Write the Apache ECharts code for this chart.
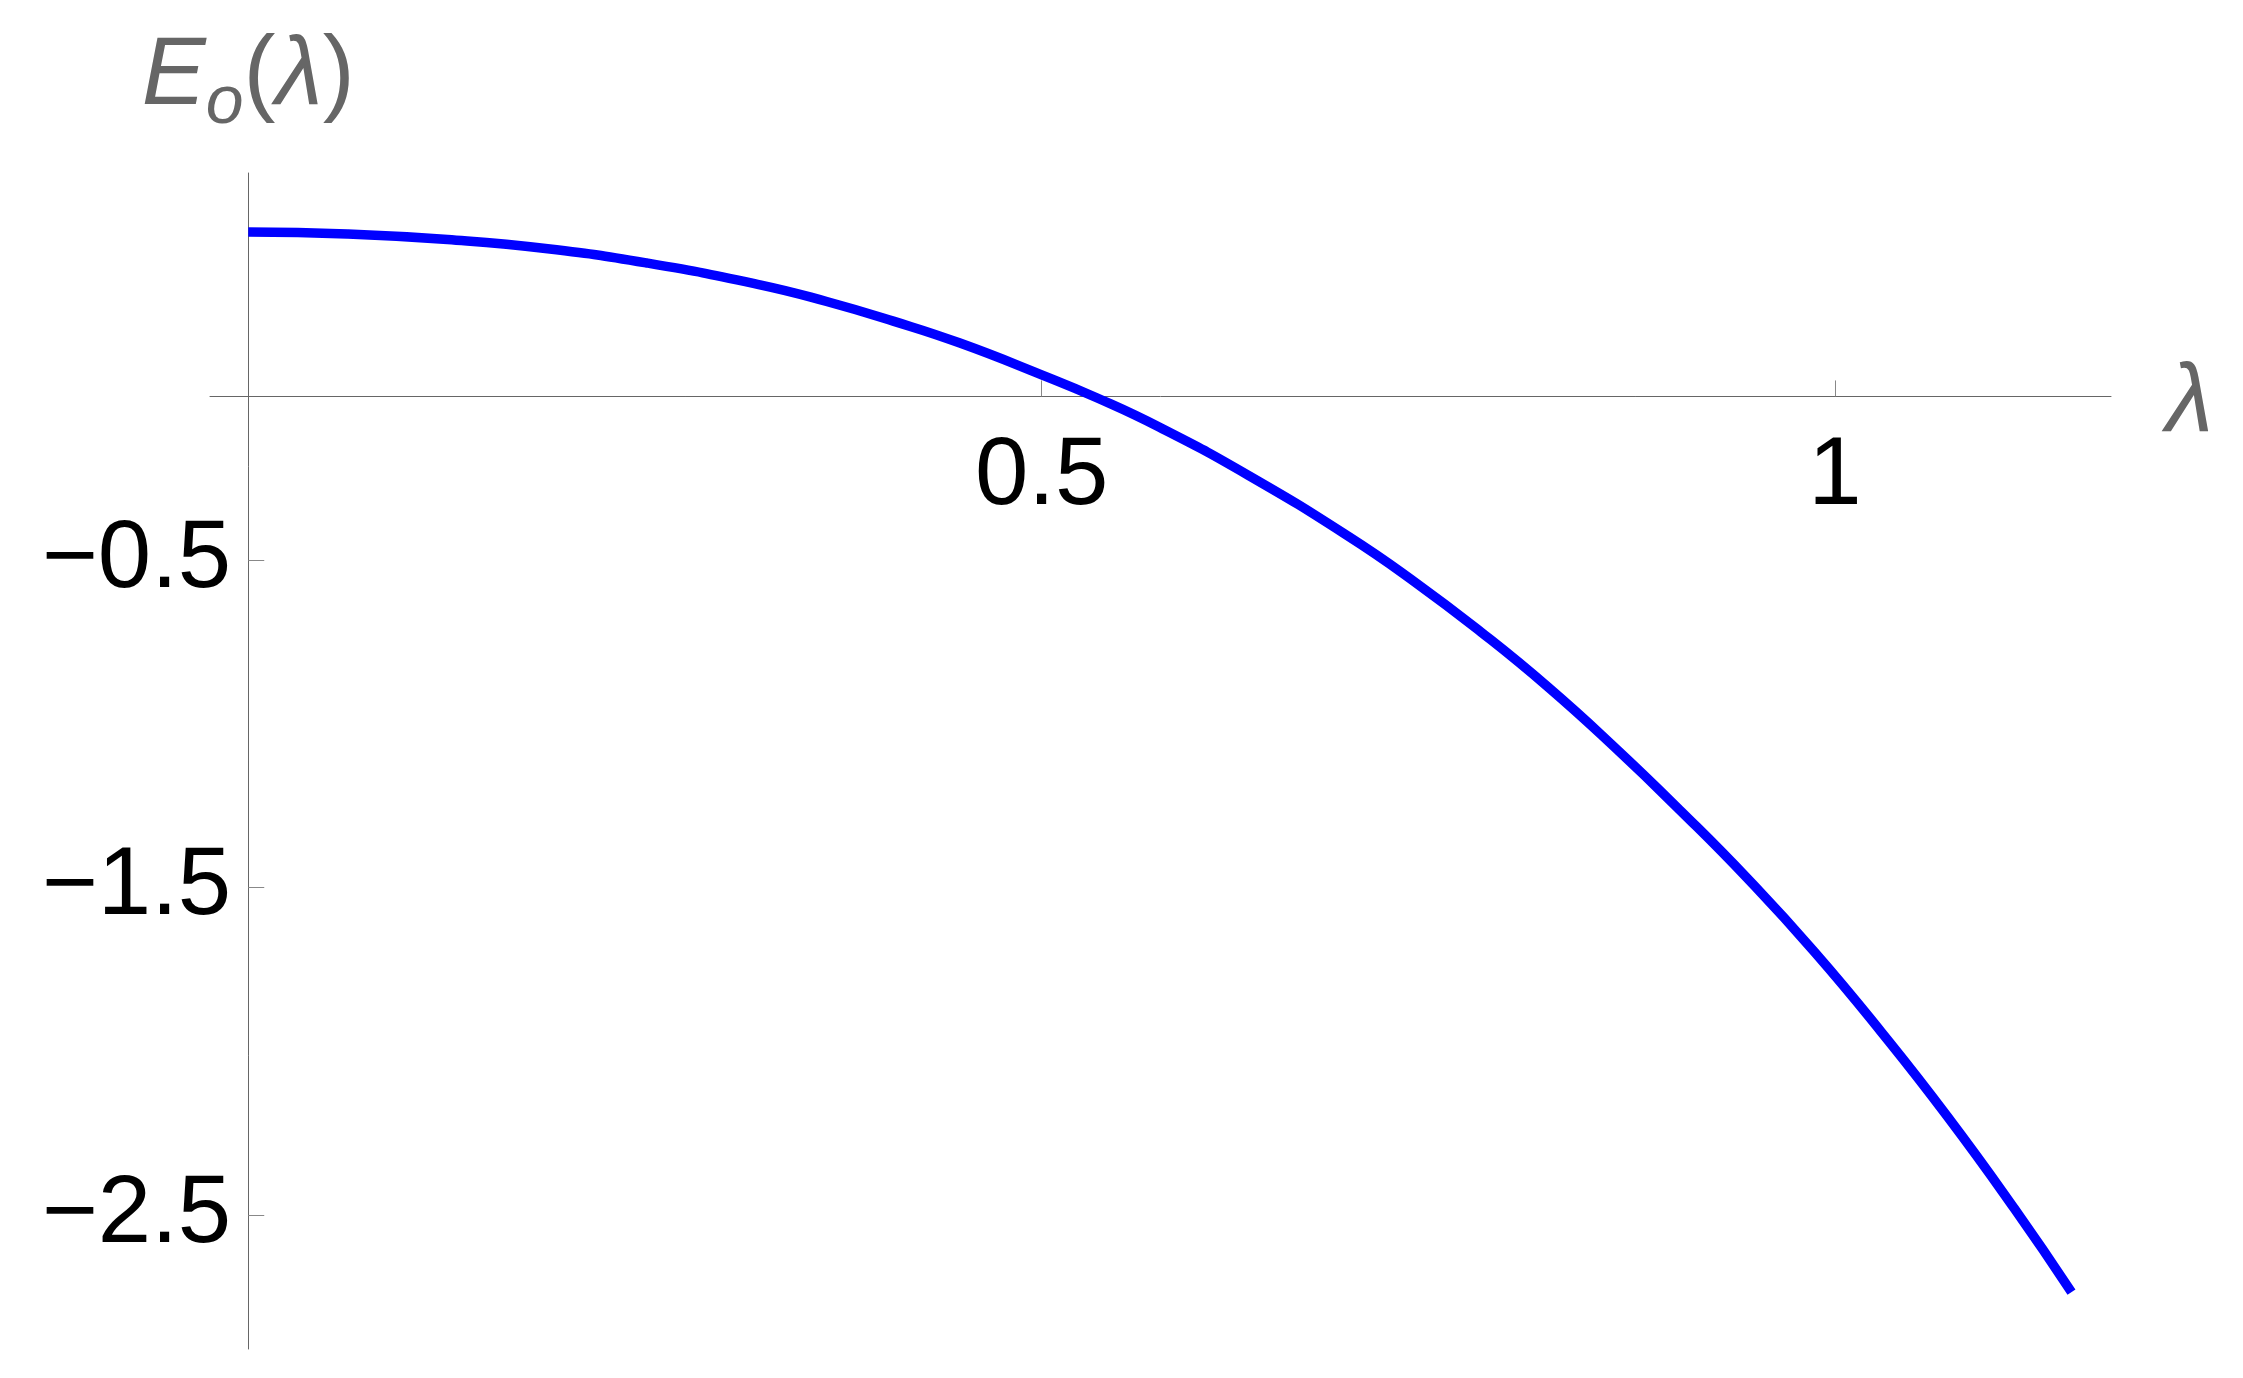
<!DOCTYPE html>
<html>
<head>
<meta charset="utf-8">
<script src="https://cdn.jsdelivr.net/npm/echarts@6/dist/echarts.min.js"></script>
<style>
  html, body { margin: 0; padding: 0; background: #fff; }
  #chart { width: 2243px; height: 1378px; }
</style>
</head>
<body>
<div id="chart"></div>
<script>
// values
var lambdaVals = [0, 0.0625, 0.1256, 0.1887, 0.2518, 0.3225, 0.3645, 0.4065, 0.4485, 0.5, 0.5347, 0.5746,
                  0.630, 0.693, 0.735, 0.777, 0.819, 0.861, 0.903, 0.945, 0.987, 1.029, 1.071, 1.113, 1.149];
var energyVals = [0.502, 0.496, 0.479, 0.451, 0.407, 0.341, 0.290, 0.230, 0.163, 0.066, -0.004, -0.095,
                  -0.240, -0.426, -0.566, -0.720, -0.887, -1.071, -1.267, -1.473, -1.696, -1.940, -2.200, -2.480, -2.735];
var xTicks = [0.5, 1];
var yTicks = [-2.5, -1.5, -0.5];

var W = 2243, H = 1378;
var gridLeft = 210, gridRight = 132, gridTop = 173, gridBottom = 29;
var xMin = -0.0241, xMax = 1.1739;
var yMin = -2.909, yMax = 0.6824;

var font = 'Liberation Sans, Arial, sans-serif';
var axisGray = '#666666';
var nameGray = '#666666';

function fmt(v) {
    return (v < 0 ? '\u2212' : '') + Math.abs(v);
}

// axes cross at (0,0): shift them from the grid edges with offset
var zeroX = gridLeft + (0 - xMin) / (xMax - xMin) * (W - gridLeft - gridRight);
var zeroY = gridTop + (yMax - 0) / (yMax - yMin) * (H - gridTop - gridBottom);
var xOffset = -((H - gridBottom) - zeroY);
var yOffset = -(zeroX - gridLeft);

var seriesData = [];
for (var i = 0; i < lambdaVals.length; i++) {
    seriesData.push([lambdaVals[i], energyVals[i]]);
}

var myChart = echarts.init(document.getElementById('chart'), null, { renderer: 'canvas' });

var option = {
    backgroundColor: '#ffffff',
    animation: false,
    grid: {
        left: gridLeft,
        right: gridRight,
        top: gridTop,
        bottom: gridBottom,
        containLabel: false,
        outerBoundsMode: 'none'
    },
    xAxis: {
        type: 'value',
        min: xMin,
        max: xMax,
        position: 'bottom',
        offset: xOffset,
        name: 'λ',
        nameLocation: 'end',
        nameGap: 55,
        nameMoveOverlap: false,
        nameTextStyle: {
            fontFamily: font,
            fontStyle: 'italic',
            fontSize: 96,
            color: nameGray,
            verticalAlign: 'top',
            lineHeight: 15
        },
        axisLine: { onZero: false, lineStyle: { color: axisGray, width: 1 } },
        axisTick: {
            show: true,
            inside: true,
            length: 16,
            customValues: xTicks,
            lineStyle: { color: '#888888', width: 1 }
        },
        axisLabel: {
            customValues: xTicks,
            showMinLabel: true,
            showMaxLabel: true,
            hideOverlap: false,
            margin: 33,
            fontFamily: font,
            fontSize: 96,
            color: '#000000',
            formatter: fmt
        },
        splitLine: { show: false }
    },
    yAxis: {
        type: 'value',
        min: yMin,
        max: yMax,
        position: 'left',
        offset: yOffset,
        name: '{e|E}{o|o}{p|(}{l|λ}{p|)}',
        nameLocation: 'end',
        nameGap: 48,
        nameMoveOverlap: false,
        nameTextStyle: {
            color: nameGray,
            fontFamily: font,
            fontSize: 96,
            rich: {
                e: { fontFamily: font, fontStyle: 'italic', fontSize: 96, lineHeight: 96, verticalAlign: 'top', color: nameGray },
                o: { fontFamily: font, fontStyle: 'italic', fontSize: 68, lineHeight: 68, verticalAlign: 'top', padding: [41, 0, 0, 0], color: nameGray },
                p: { fontFamily: font, fontSize: 96, lineHeight: 96, verticalAlign: 'top', color: nameGray },
                l: { fontFamily: font, fontStyle: 'italic', fontSize: 96, lineHeight: 96, verticalAlign: 'top', color: nameGray }
            }
        },
        axisLine: { onZero: false, lineStyle: { color: axisGray, width: 1 } },
        axisTick: {
            show: true,
            inside: true,
            length: 16,
            customValues: yTicks,
            lineStyle: { color: '#888888', width: 1 }
        },
        axisLabel: {
            customValues: yTicks,
            showMinLabel: true,
            showMaxLabel: true,
            hideOverlap: false,
            margin: 17,
            fontFamily: font,
            fontSize: 96,
            color: '#000000',
            formatter: fmt
        },
        splitLine: { show: false }
    },
    series: [
        {
            type: 'line',
            data: seriesData,
            smooth: true,
            showSymbol: false,
            symbol: 'none',
            clip: false,
            lineStyle: { color: '#0000ff', width: 9.5, cap: 'butt' }
        }
    ]
};

myChart.setOption(option);
</script>
</body>
</html>
